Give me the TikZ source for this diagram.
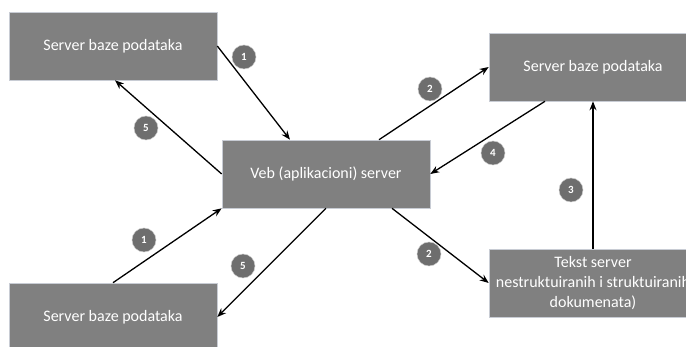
\documentclass[tikz,border=0pt]{standalone}
\usepackage{fontspec}
\setmainfont{Carlito}
\usetikzlibrary{positioning,arrows.meta,calc}
\definecolor{boxgray} {HTML}{808080}
\definecolor{edgegray}{HTML}{C8CCD4}
\definecolor{stepgray}{HTML}{6E6E6E}
\tikzset{
  % --- nodes
  srv/.style   = {draw=edgegray, line width=0.6pt, fill=boxgray, text=white,
                  minimum width=208pt, minimum height=68pt, align=center,
                  inner sep=2pt, font=\fontsize{16}{20}\selectfont},
  num/.style   = {circle, fill=stepgray, draw=black!20, line width=0.5pt,
                  text=white, minimum size=24pt, inner sep=0pt,
                  font=\fontsize{11}{12}\selectfont\bfseries},
  % --- edges
  e/.style     = {-{Stealth[length=9pt,width=7pt]}, line width=1.3pt, draw=black},
}
\begin{document}
\begin{tikzpicture}[x=1pt,y=-1pt]
  \useasboundingbox (0,0) rectangle (686,347);
  \begin{scope}
  \clip (0,0) rectangle (686,347);
  % servers
  \node[srv] (tl)  at (113,46)  {Server baze podataka};
  \node[srv] (bl)  at (113,317) {Server baze podataka};
  \node[srv] (veb) at (326,174) {Veb (aplikacioni) server};
  \node[srv] (tr)  at (593,67)  {Server baze podataka};
  \node[srv] (br)  at (593,283) {Tekst server\\nestruktuiranih i struktuiranih\\dokumenata)};
  % connectors
  \draw[e] (tl.east) -- ([xshift=-36pt]veb.north);
  \draw[e] (veb.west) -- ([xshift=2pt]tl.south);
  \draw[e] ([xshift=53pt]veb.north) -- (tr.west);
  \draw[e] ([xshift=-48pt]tr.south) -- (veb.east);
  \draw[e] (br.north) -- (tr.south);
  \draw[e] ([xshift=66pt]veb.south) -- (br.west);
  \draw[e] (bl.north) -- (veb.south west);
  \draw[e] (veb.south) -- (bl.east);
  % step numbers
  \node[num] (s1a) at (244,57)  {1};
  \node[num] (s5a) at (146,128) {5};
  \node[num] (s2a) at (430,89)  {2};
  \node[num] (s4)  at (493,153) {4};
  \node[num] (s3)  at (571,190) {3};
  \node[num] (s2b) at (429,254) {2};
  \node[num] (s1b) at (144,240) {1};
  \node[num] (s5b) at (243,266) {5};
  \end{scope}
\end{tikzpicture}
\end{document}
